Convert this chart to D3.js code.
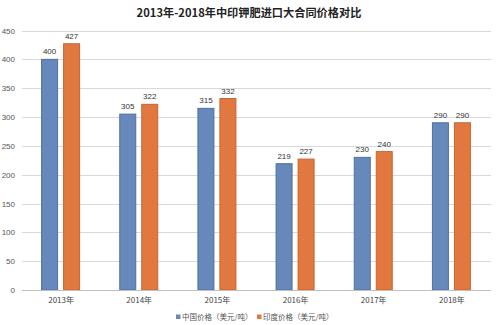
<!DOCTYPE html>
<html><head><meta charset="utf-8">
<script src="https://cdn.jsdelivr.net/npm/d3@7"></script>
<style>body{margin:0;background:#fff}svg{display:block}</style>
</head><body>
<script>
const categories = ["2013年","2014年","2015年","2016年","2017年","2018年"];
const chinaPrice = [400,305,315,219,230,290];
const indiaPrice = [427,322,332,227,240,290];
const seriesNames = ["中国价格（美元/吨）","印度价格（美元/吨）"];
const yTicks = [0,50,100,150,200,250,300,350,400,450];
const colors = ["#6788BA","#E07840"];
const strokes = ["#4F70A3","#C9642F"];

const W=500,H=325;
const svg=d3.select("body").append("svg").attr("width",W).attr("height",H)
  .style("font-family","'Noto Sans CJK SC','Liberation Sans',sans-serif");
const x=d3.scaleBand().domain(categories).range([22,491]);
const y=d3.scaleLinear().domain([0,450]).range([290,30.5]);

svg.append("text").attr("x",249).attr("y",16.5).attr("text-anchor","middle")
  .attr("font-size",11.2).attr("font-weight","bold").attr("fill","#222")
  .text("2013年-2018年中印钾肥进口大合同价格对比");

const g=svg.append("g");
g.selectAll("line.grid").data(yTicks.filter(d=>d>0)).join("line")
  .attr("x1",22).attr("x2",491).attr("y1",d=>Math.round(y(d))+0.5).attr("y2",d=>Math.round(y(d))+0.5)
  .attr("stroke","#d9d9d9").attr("stroke-width",1);
g.selectAll("text.yt").data(yTicks).join("text")
  .attr("x",15).attr("y",d=>y(d)+3).attr("text-anchor","end")
  .attr("font-size",8).attr("fill","#555").attr("font-family","'Liberation Sans',sans-serif").text(d=>d);

const series=[chinaPrice,indiaPrice];
const bw=17;
const offs=[-20,2];
series.forEach((s,i)=>{
  g.selectAll("rect.s"+i).data(s).join("rect")
    .attr("x",(d,j)=>x(categories[j])+x.bandwidth()/2+offs[i]+0.5)
    .attr("y",d=>y(d)).attr("width",bw-1).attr("height",d=>y(0)-y(d))
    .attr("fill",colors[i]).attr("stroke",strokes[i]).attr("stroke-width",1);
  g.selectAll("text.l"+i).data(s).join("text")
    .attr("x",(d,j)=>x(categories[j])+x.bandwidth()/2+offs[i]+bw/2)
    .attr("y",d=>y(d)-5).attr("text-anchor","middle")
    .attr("font-size",8).attr("fill","#333").attr("font-family","'Liberation Sans',sans-serif").text(d=>d);
});

g.append("line").attr("x1",22).attr("x2",491).attr("y1",Math.round(y(0))+0.5).attr("y2",Math.round(y(0))+0.5)
  .attr("stroke","#bfbfbf");
g.selectAll("text.xt").data(categories).join("text")
  .attr("x",d=>x(d)+x.bandwidth()/2).attr("y",303).attr("text-anchor","middle")
  .attr("font-size",8).attr("fill","#444").text(d=>d);

const lx=[176,257];
seriesNames.forEach((n,i)=>{
  svg.append("rect").attr("x",lx[i]).attr("y",314.5).attr("width",4.5).attr("height",4.5).attr("fill",colors[i]);
  svg.append("text").attr("x",lx[i]+6).attr("y",319.5).attr("font-size",7.5).attr("fill","#555").text(n);
});
</script>
</body></html>
